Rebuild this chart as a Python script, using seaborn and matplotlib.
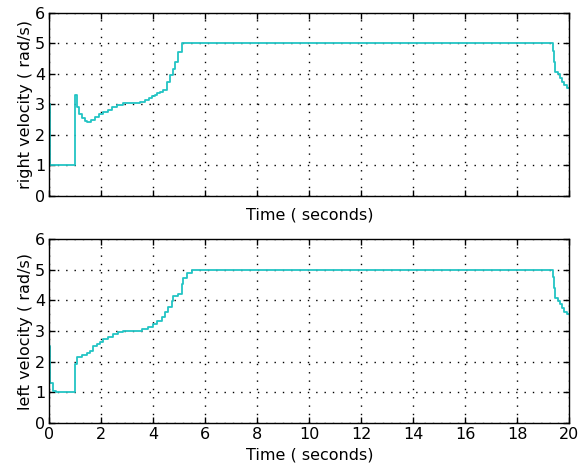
import matplotlib
matplotlib.use("Agg")
import matplotlib.pyplot as plt
import seaborn as sns
import numpy as np
import pandas as pd

# ---- data (step samples: value holds from each time until the next) ----
right_time = [0.0, 0.03, 1.0, 1.08, 1.15, 1.24, 1.37, 1.45, 1.6, 1.76, 1.92, 2.08,
              2.24, 2.4, 2.6, 2.85, 3.49, 3.68, 3.82, 3.94, 4.06, 4.16, 4.26, 4.38,
              4.51, 4.64, 4.77, 4.83, 4.96, 5.09, 19.38, 19.42, 19.46, 19.55, 19.64,
              19.73, 19.81, 19.9, 20.0]
right_vel = [3.0, 1.0, 3.3, 2.9, 2.7, 2.55, 2.45, 2.42, 2.5, 2.6, 2.68, 2.76,
             2.83, 2.9, 2.97, 3.03, 3.09, 3.15, 3.2, 3.26, 3.3, 3.36, 3.41, 3.46,
             3.73, 3.95, 4.17, 4.38, 4.7, 5.0, 4.76, 4.4, 4.07, 3.98, 3.87,
             3.74, 3.63, 3.54, 3.54]

left_time = [0.0, 0.02, 0.15, 0.25, 1.0, 1.08, 1.24, 1.44, 1.56, 1.69, 1.82, 1.95,
             2.08, 2.27, 2.46, 2.65, 2.85, 3.55, 3.81, 4.0, 4.13, 4.32, 4.45, 4.58,
             4.71, 4.77, 4.96, 5.09, 5.15, 5.28, 5.47, 19.38, 19.42, 19.46, 19.55,
             19.64, 19.73, 19.81, 19.9, 20.0]
left_vel = [2.5, 1.3, 1.05, 1.0, 1.92, 2.14, 2.2, 2.27, 2.36, 2.52, 2.58, 2.65,
            2.74, 2.82, 2.89, 2.96, 3.0, 3.07, 3.12, 3.23, 3.34, 3.45, 3.61, 3.77,
            3.99, 4.13, 4.2, 4.53, 4.75, 4.91, 5.0, 4.76, 4.4, 4.07, 3.98,
            3.87, 3.74, 3.63, 3.54, 3.54]

x_ticks = [0, 2, 4, 6, 8, 10, 12, 14, 16, 18, 20]
y_ticks = [0, 1, 2, 3, 4, 5, 6]
x_label = "Time ( seconds)"
right_label = "right velocity ( rad/s)"
left_label = "left velocity ( rad/s)"

sns.set_style("white")
plt.rcParams["font.family"] = ["DejaVu Sans"]
plt.rcParams["font.size"] = 11.5
plt.rcParams["text.color"] = "black"
plt.rcParams["axes.labelcolor"] = "black"

W, H = 587, 474
fig = plt.figure(figsize=(W / 100, H / 100), dpi=100)
ax1 = fig.add_axes([49.3 / W, 1 - 196 / H, 520 / W, 183.3 / H])
ax2 = fig.add_axes([49.3 / W, 1 - 422.7 / H, 520 / W, 183.4 / H])

line_color = "#22C4C4"
df_r = pd.DataFrame({"t": right_time, "v": right_vel})
df_l = pd.DataFrame({"t": left_time, "v": left_vel})

for ax, df, ylab, show_xt in [(ax1, df_r, right_label, False), (ax2, df_l, left_label, True)]:
    sns.lineplot(data=df, x="t", y="v", ax=ax, color=line_color, lw=1.3,
                 drawstyle="steps-post", estimator=None, sort=False)
    ax.set_xlim(0, 20)
    ax.set_ylim(0, 6)
    ax.set_xticks(x_ticks)
    ax.set_yticks(y_ticks)
    ax.set_yticklabels([str(v) for v in y_ticks])
    if show_xt:
        ax.set_xticklabels([str(v) for v in x_ticks])
    else:
        ax.set_xticklabels([])
    ax.grid(True, color="black", linestyle=(0, (1, 5)), linewidth=1.0)
    ax.tick_params(direction="in", length=4, width=1, top=True, right=True,
                   bottom=True, left=True, colors="black", pad=3, labelsize=11.5)
    for s in ax.spines.values():
        s.set_visible(True)
        s.set_color("black")
        s.set_linewidth(1.0)
    ax.set_xlabel(x_label, fontsize=11.5, color="black", labelpad=5 if not show_xt else 4)
    ax.set_ylabel(ylab, fontsize=11.5, color="black", labelpad=1)

fig.savefig("out.png", dpi=100, facecolor="white")
